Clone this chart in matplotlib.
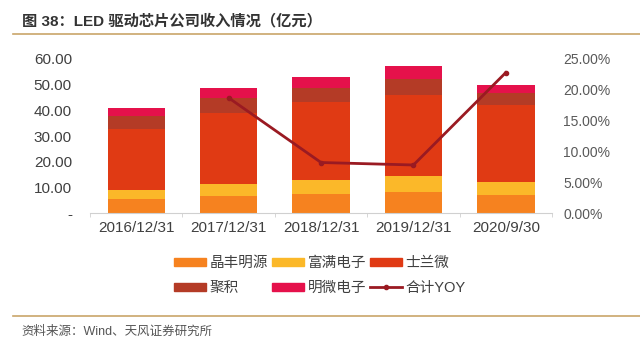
import matplotlib.pyplot as plt
import numpy as np
from matplotlib.lines import Line2D
from matplotlib.patches import Patch

plt.rcParams["font.family"] = ["Liberation Sans", "Noto Sans CJK SC"]

periods = ["2016/12/31", "2017/12/31", "2018/12/31", "2019/12/31", "2020/9/30"]
series_names = ["晶丰明源", "富满电子", "士兰微", "聚积", "明微电子"]
jingfeng = [5.4, 6.5, 7.4, 8.2, 6.9]
fuman = [3.4, 4.8, 5.3, 6.3, 5.2]
silan = [24.0, 27.7, 30.4, 31.3, 30.1]
juji = [5.1, 5.8, 5.6, 6.5, 4.5]
mingwei = [3.2, 3.9, 4.1, 4.8, 3.3]
yoy = [None, 18.7, 8.2, 7.8, 22.8]

left_ticks = [0, 10, 20, 30, 40, 50, 60]
left_labels = ["-", "10.00", "20.00", "30.00", "40.00", "50.00", "60.00"]
right_ticks = [0, 5, 10, 15, 20, 25]
right_labels = ["0.00%", "5.00%", "10.00%", "15.00%", "20.00%", "25.00%"]

colors = ["#F6821F", "#FBB829", "#E03A14", "#B43B26", "#E5114B"]
line_color = "#9A1A22"
text_color = "#404040"

fig = plt.figure(figsize=(6.4, 3.51), dpi=100)
ax = fig.add_axes([0.1406, 0.393, 0.722, 0.439])

x = np.arange(len(periods))
bottom = np.zeros(len(periods))
for vals, color, name in zip([jingfeng, fuman, silan, juji, mingwei], colors, series_names):
    ax.bar(x, vals, width=0.62, bottom=bottom, color=color, label=name, zorder=2)
    bottom += np.array(vals)

ax.set_xlim(-0.5, len(periods) - 0.5)
ax.set_ylim(0, 60)
ax.set_yticks(left_ticks)
ax.set_yticklabels(left_labels, fontsize=11, color=text_color)
ax.set_xticks(x)
ax.set_xticklabels(periods, fontsize=11, color=text_color)
ax.tick_params(axis="y", length=0, pad=13)
ax.tick_params(axis="x", length=0, pad=6)
ax.set_xticks(np.arange(-0.5, len(periods) + 0.5, 1), minor=True)
ax.tick_params(axis="x", which="minor", length=3, color="#d0d0d0")
for side in ["top", "right", "left"]:
    ax.spines[side].set_visible(False)
ax.spines["bottom"].set_color("#d0d0d0")

ax2 = ax.twinx()
yoy_x = [i for i, v in enumerate(yoy) if v is not None]
yoy_y = [v for v in yoy if v is not None]
ax2.plot(yoy_x, yoy_y, color=line_color, linewidth=2, marker="o", markersize=3, zorder=3)
ax2.set_ylim(0, 25)
ax2.set_yticks(right_ticks)
ax2.set_yticklabels(right_labels, fontsize=10, color="#595959")
ax2.tick_params(axis="y", length=0, pad=8)
for side in ["top", "right", "left", "bottom"]:
    ax2.spines[side].set_visible(False)

handles = [Patch(color=c) for c in colors]
handles.append(Line2D([0], [0], color=line_color, linewidth=2, marker="o", markersize=3))
labels = series_names + ["合计YOY"]
order = [0, 3, 1, 4, 2, 5]
fig.legend(
    [handles[i] for i in order],
    [labels[i] for i in order],
    ncol=3,
    loc="center",
    bbox_to_anchor=(0.5, 0.215),
    frameon=False,
    fontsize=10.5,
    handlelength=2.2,
    handleheight=0.5,
    columnspacing=0.25,
    handletextpad=0.25,
    labelspacing=0.75,
    labelcolor=text_color,
)

fig.text(0.034, 0.94, "图 38：LED 驱动芯片公司收入情况（亿元）", fontsize=11,
         fontweight="bold", color="#333333", va="center")
fig.add_artist(Line2D([0.02, 1.0], [0.903, 0.903], color="#C9A56A", linewidth=1.2))
fig.add_artist(Line2D([0.02, 1.0], [0.10, 0.10], color="#C9A56A", linewidth=1.2))
fig.text(0.034, 0.055, "资料来源：Wind、天风证券研究所", fontsize=9, color="#555555", va="center")

fig.savefig("out.png", dpi=100)
